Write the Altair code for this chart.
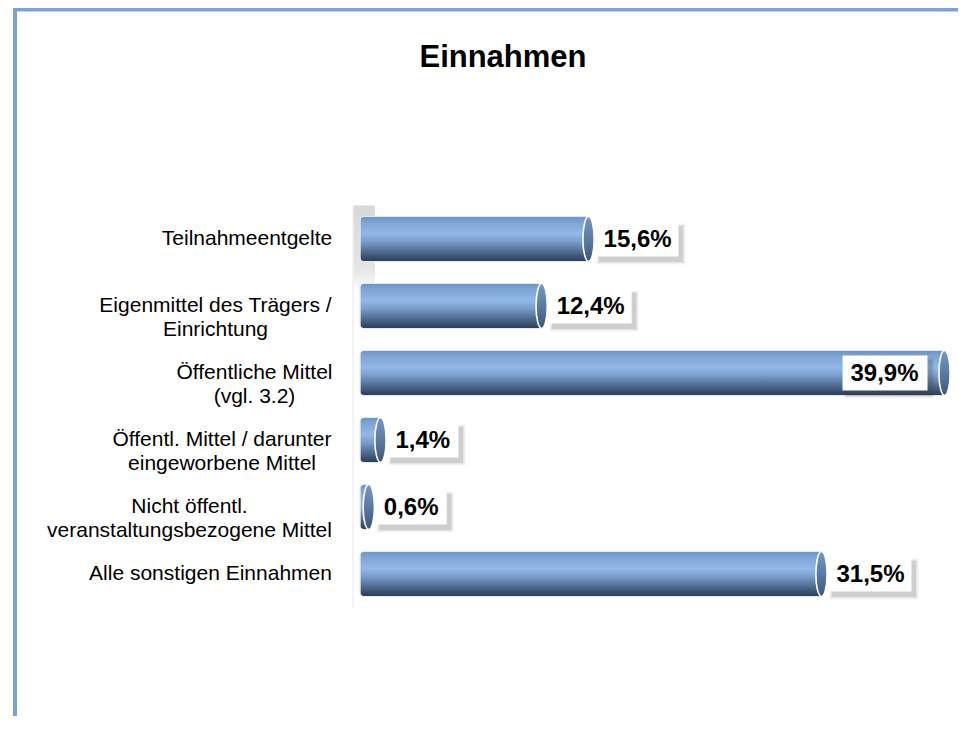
import altair as alt
import pandas as pd

# ---------------- data ----------------
categories = [
    "Teilnahmeentgelte",
    "Eigenmittel des Trägers /\nEinrichtung",
    "Öffentliche Mittel\n(vgl. 3.2)",
    "Öffentl. Mittel / darunter\neingeworbene Mittel",
    "Nicht öffentl.\nveranstaltungsbezogene Mittel",
    "Alle sonstigen Einnahmen",
]
values = [15.6, 12.4, 39.9, 1.4, 0.6, 31.5]
title_text = "Einnahmen"

df = pd.DataFrame({"category": categories, "value": values})

# ---------------- style ----------------
FONT = "Liberation Sans"
W, H = 586, 402
PAD = {"left": 352, "top": 197.5, "right": 12, "bottom": 108}

# half width of each (multi-line) axis label block, for centred lines
label_half = {
    categories[0]: 86.5,
    categories[1]: 118,
    categories[2]: 79,
    categories[3]: 111.5,
    categories[4]: 144,
    categories[5]: 123,
}
GAP = 27


def esc(s):
    return s.replace("\n", "\\n").replace("'", "\\'")


pad_cond = [
    {"test": f"datum.value == '{esc(c)}'", "value": GAP + h} for c, h in label_half.items()
]

bar_grad = alt.Gradient(
    gradient="linear",
    x1=0, x2=0, y1=0, y2=1,
    stops=[
        alt.GradientStop(color="#6f94c4", offset=0),
        alt.GradientStop(color="#80a6d6", offset=0.15),
        alt.GradientStop(color="#90b8e8", offset=0.38),
        alt.GradientStop(color="#7a9ecd", offset=0.55),
        alt.GradientStop(color="#55729a", offset=0.75),
        alt.GradientStop(color="#364c6c", offset=0.92),
        alt.GradientStop(color="#2d3e58", offset=1),
    ],
)
cap_grad = alt.Gradient(
    gradient="linear",
    x1=0, x2=0, y1=0, y2=1,
    stops=[
        alt.GradientStop(color="#7898c4", offset=0),
        alt.GradientStop(color="#5a7aa4", offset=0.5),
        alt.GradientStop(color="#3e5577", offset=1),
    ],
)
wall_grad = alt.Gradient(
    gradient="linear",
    x1=0, x2=0, y1=0, y2=1,
    stops=[
        alt.GradientStop(color="#d8d8d8", offset=0),
        alt.GradientStop(color="#e4e4e4", offset=0.7),
        alt.GradientStop(color="#ffffff", offset=1),
    ],
)

CAP_PATH = "M0,-1 A0.25,1 0 1,1 0,1 A0.25,1 0 1,1 0,-1 Z"


def box_path(x0, x1, dx=0.0, dy=0.0, hh=0.35, grow=0.0):
    a, b = x0 + dx - grow, x1 + dx + grow
    t, u = -hh + dy - grow, hh + dy + grow
    return f"M{a:.3f},{t:.3f}L{b:.3f},{t:.3f}L{b:.3f},{u:.3f}L{a:.3f},{u:.3f}Z"


box_keys = ["out5", "out4", "in5", "in4"]
box_ext = {"out5": (0.14, 1.80), "out4": (0.14, 1.56), "in5": (-2.04, -0.34), "in4": (-1.78, -0.34)}
box_range = [box_path(*box_ext[k]) for k in box_keys]
shadow_specs = [(0.06, 0.06), (0.035, 0.09), (0.01, 0.13)]  # (grow, opacity)
shadow_ranges = [
    [box_path(*box_ext[k], dx=0.08, dy=0.10, grow=g) for k in box_keys] for g, _ in shadow_specs
]

x_scale = alt.Scale(domain=[0, 40], nice=False, zero=True)
y_scale = alt.Scale(paddingInner=0.328, paddingOuter=0.164)

y_axis = alt.Axis(
    title=None,
    labelExpr="split(datum.label, '\\n')",
    labelAlign="center",
    labelBaseline="middle",
    labelFont=FONT,
    labelFontSize=21,
    labelColor="#000000",
    labelLineHeight=23.5,
    labelLimit=600,
    labelPadding={"condition": pad_cond, "value": 140},
    ticks=False,
    domain=False,
    grid=False,
)

base = alt.Chart(df).transform_calculate(
    lbl="replace(format(datum.value, '.1f'), '.', ',') + '%'"
).transform_calculate(
    boxkey="(datum.value > 35 ? 'in' : 'out') + length(datum.lbl)"
)

X = alt.X("value:Q", scale=x_scale, axis=None)
Y = alt.Y("category:N", sort=categories, scale=y_scale, axis=y_axis)

bars = base.mark_bar(
    color=bar_grad, stroke="#dfe7f2", strokeWidth=1,
    cornerRadiusTopLeft=4, cornerRadiusBottomLeft=4,
).encode(x=X, y=Y)

caps = base.mark_point(
    shape=CAP_PATH, size=2025, filled=True, fill=cap_grad,
    stroke="#ffffff", strokeWidth=1.6, opacity=1,
).encode(x=X, y=Y)


def box_layer(rng, fill, op):
    return base.mark_point(
        filled=True, size=10000, fill=fill, fillOpacity=op, opacity=1, strokeWidth=0
    ).encode(
        x=X, y=Y,
        shape=alt.Shape("boxkey:N", scale=alt.Scale(domain=box_keys, range=rng), legend=None),
    )


shadows = [box_layer(r, "#404040", op) for r, (_, op) in zip(shadow_ranges, shadow_specs)]
boxes = box_layer(box_range, "#ffffff", 1)

txt_out = base.transform_filter("datum.value <= 35").mark_text(
    align="left", baseline="middle", dx=15, dy=1, font=FONT, fontSize=24,
    fontWeight="bold", color="#000000",
).encode(x=X, y=Y, text="lbl:N")

txt_in = base.transform_filter("datum.value > 35").mark_text(
    align="right", baseline="middle", dx=-26, dy=1, font=FONT, fontSize=24,
    fontWeight="bold", color="#000000",
).encode(x=X, y=Y, text="lbl:N")

# ---------------- decoration ----------------
one = alt.Chart(pd.DataFrame({"k": [0]}))

frame_left = one.mark_rule(color="#7ba2d2", strokeWidth=4).encode(
    x=alt.value(-345), y=alt.value(-198), y2=alt.value(520)
)
frame_top = one.mark_rule(color="#7ba2d2", strokeWidth=4).encode(
    x=alt.value(-347), x2=alt.value(620), y=alt.value(-196)
)
wall = one.mark_rect(fill=wall_grad).encode(
    x=alt.value(-7), x2=alt.value(15), y=alt.value(0), y2=alt.value(88)
)
wall_line = one.mark_rule(color="#f0f0f0", strokeWidth=1.5).encode(
    x=alt.value(-7), y=alt.value(0), y2=alt.value(H)
)

title = alt.Chart(pd.DataFrame({"t": [title_text]})).mark_text(
    align="center", baseline="alphabetic", font=FONT, fontSize=31,
    fontWeight="bold", color="#000000",
).encode(text="t:N", x=alt.value(143), y=alt.value(-139))

chart = alt.layer(
    frame_left, frame_top, wall, wall_line,
    bars, caps, *shadows, boxes, txt_out, txt_in, title,
).resolve_scale(
    shape="independent"
).properties(
    width=W, height=H,
    padding=PAD,
    autosize=alt.AutoSizeParams(type="none"),
    background="#ffffff",
).configure_view(stroke=None)

chart.save("out.html", embed_options={"renderer": "svg", "actions": False})
